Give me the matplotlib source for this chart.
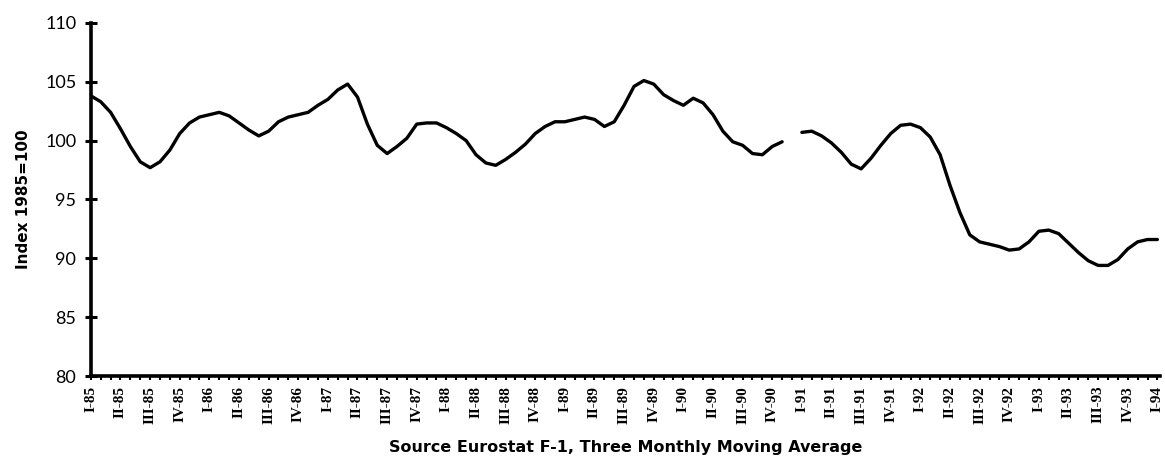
import matplotlib
matplotlib.use("Agg")
import matplotlib.pyplot as plt
import numpy as np

# monthly index, Jan 1985 .. Jan 1994 (three monthly moving average), Dec 1990 missing
index_values = [
    103.8, 103.3, 102.4, 101.0, 99.5, 98.2, 97.7, 98.2, 99.2, 100.6, 101.5, 102.0,   # 1985
    102.2, 102.4, 102.1, 101.5, 100.9, 100.4, 100.8, 101.6, 102.0, 102.2, 102.4, 103.0,  # 1986
    103.5, 104.3, 104.8, 103.7, 101.4, 99.6, 98.9, 99.5, 100.2, 101.4, 101.5, 101.5,  # 1987
    101.1, 100.6, 100.0, 98.8, 98.1, 97.9, 98.4, 99.0, 99.7, 100.6, 101.2, 101.6,  # 1988
    101.6, 101.8, 102.0, 101.8, 101.2, 101.6, 103.0, 104.6, 105.1, 104.8, 103.9, 103.4,  # 1989
    103.0, 103.6, 103.2, 102.2, 100.8, 99.9, 99.6, 98.9, 98.8, 99.5, 99.9, np.nan,  # 1990
    100.7, 100.8, 100.4, 99.8, 99.0, 98.0, 97.6, 98.5, 99.6, 100.6, 101.3, 101.4,  # 1991
    101.1, 100.3, 98.8, 96.2, 93.9, 92.0, 91.4, 91.2, 91.0, 90.7, 90.8, 91.4,  # 1992
    92.3, 92.4, 92.1, 91.3, 90.5, 89.8, 89.4, 89.4, 89.9, 90.8, 91.4, 91.6,  # 1993
    91.6,  # Jan 1994
]
quarters = ['I', 'II', 'III', 'IV']
years = ['85', '86', '87', '88', '89', '90', '91', '92', '93']
quarter_labels = [q + '-' + y for y in years for q in quarters] + ['I-94']

months = np.arange(len(index_values))

fig = plt.figure(figsize=(11.65, 4.57), dpi=100)
ax = fig.add_axes([0.078, 0.177, 0.918, 0.773])

ax.plot(months, index_values, color='black', linewidth=2.4,
        solid_capstyle='round', solid_joinstyle='round')

ax.set_xlim(0, 108.3)
ax.set_ylim(80, 110)

for side in ['top', 'right']:
    ax.spines[side].set_visible(False)
for side in ['left', 'bottom']:
    ax.spines[side].set_linewidth(2.6)

ax.set_yticks([80, 85, 90, 95, 100, 105, 110])
ax.tick_params(axis='y', direction='inout', length=9, width=2.2, pad=6,
               labelsize=13)
for lbl in ax.get_yticklabels():
    lbl.set_family('Lato')

ax.set_xticks(np.arange(0, 109, 3))
ax.set_xticklabels(quarter_labels, rotation=90, family='Liberation Serif',
                   fontsize=11, fontweight='bold')
ax.set_xticks(months, minor=True)
ax.tick_params(axis='x', which='major', direction='out', length=3, width=1.5, pad=4)
ax.tick_params(axis='x', which='minor', direction='out', length=3, width=1.5)

ax.set_ylabel('Index 1985=100', fontsize=11, fontweight='bold', labelpad=10)
ax.set_xlabel('Source Eurostat F-1, Three Monthly Moving Average',
              fontsize=11.5, fontweight='bold', labelpad=12)

fig.savefig('out.png', dpi=100)
